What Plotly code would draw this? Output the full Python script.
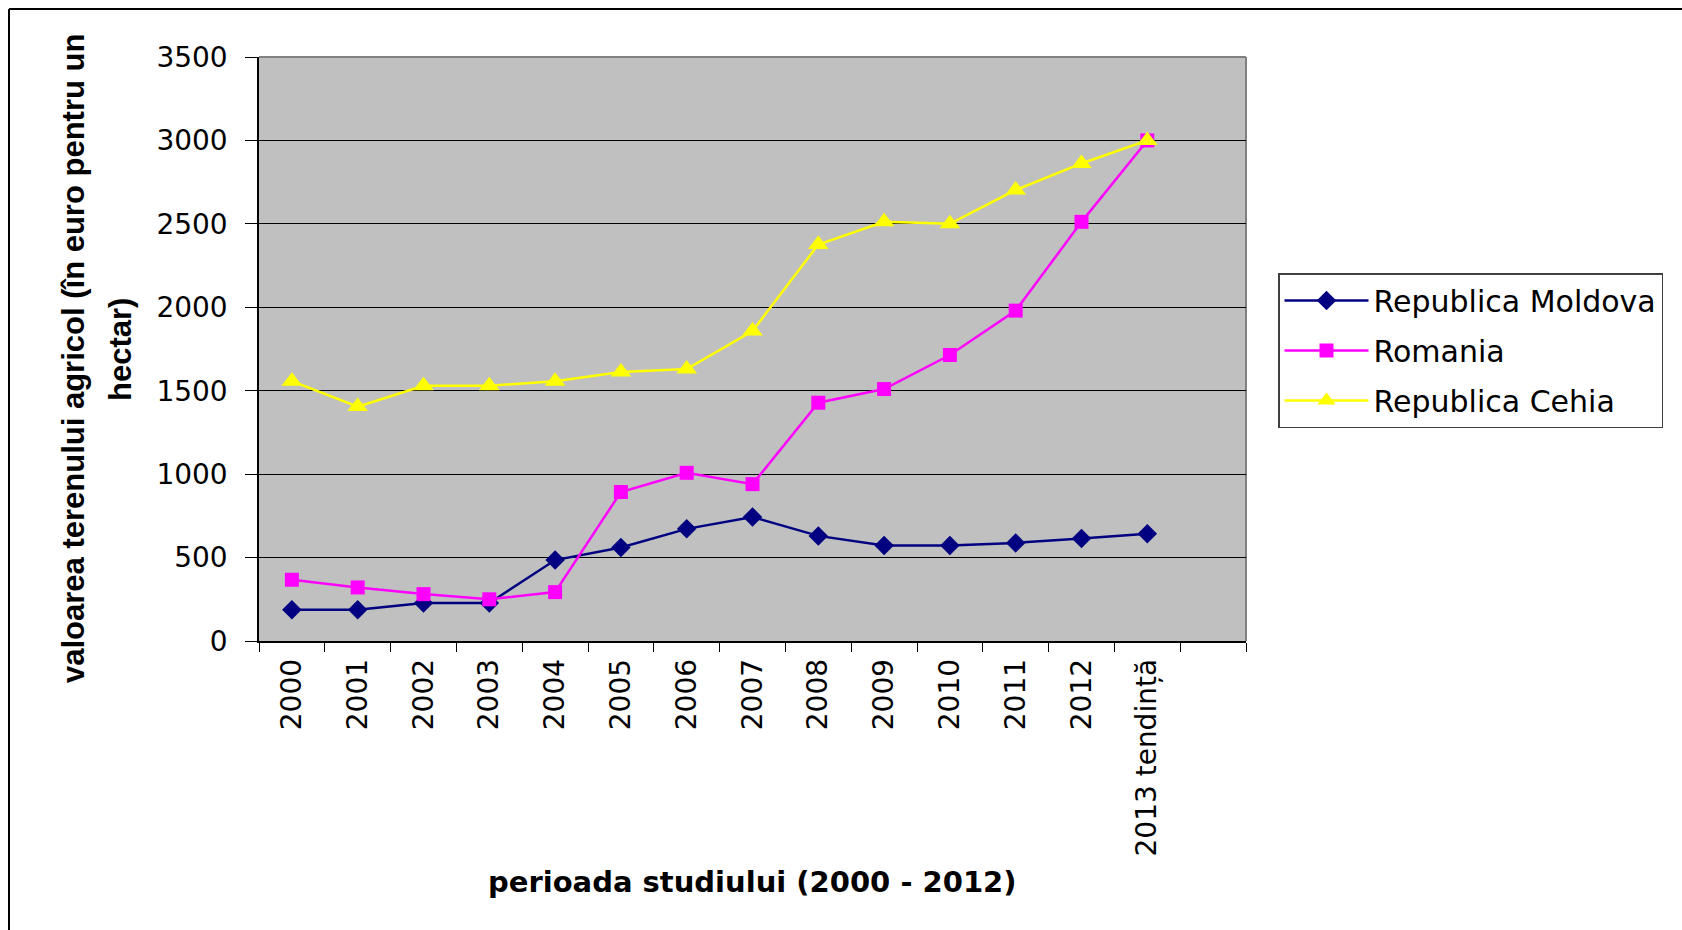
import plotly.graph_objects as go

# Agricultural land value, euro per hectare
years = ["2000", "2001", "2002", "2003", "2004", "2005", "2006",
         "2007", "2008", "2009", "2010", "2011", "2012", "2013 tendință"]
axis_slots = years + [" "]  # one spare empty slot at the right end

moldova = [188, 188, 228, 228, 485, 560, 672, 743, 630, 572, 572, 588, 614, 643]
romania = [367, 321, 281, 250, 293, 893, 1008, 940, 1428, 1510, 1714, 1980, 2512, 3000]
cehia = [1557, 1405, 1530, 1530, 1557, 1612, 1630, 1858, 2376, 2512, 2500, 2703, 2862, 3000]

series_names = ["Republica Moldova", "Romania", "Republica Cehia"]
series_colors = ["#000080", "#FF00FF", "#FFFF00"]
series_symbols = ["diamond", "square", "triangle-up"]
series_sizes = [15, 14, 18]

W, H = 1682, 930
ML, MR, MT, MB = 259, 436, 57, 289
PW, PH = W - ML - MR, H - MT - MB


def px_x(p):
    return (p - ML) / PW


def px_y(p):
    return (H - MB - p) / PH


fig = go.Figure()
for i, (name, vals) in enumerate(zip(series_names, [moldova, romania, cehia])):
    fig.add_trace(go.Scatter(
        x=years, y=vals, name=name, mode="lines+markers",
        legendgroup=name,
        line=dict(color=series_colors[i], width=2.5),
        marker=dict(symbol=series_symbols[i], size=series_sizes[i],
                    color=series_colors[i], line=dict(width=0)),
    ))

tick_font = dict(family="DejaVu Sans", size=28, color="black")

fig.update_layout(
    width=W, height=H,
    margin=dict(l=ML, r=MR, t=MT, b=MB, pad=0),
    paper_bgcolor="white",
    plot_bgcolor="#C0C0C0",
    showlegend=True,
    legend=dict(
        x=px_x(1278), y=px_y(273), xanchor="left", yanchor="top",
        bgcolor="white", bordercolor="#404040", borderwidth=1.5,
        font=dict(family="DejaVu Sans", size=30, color="black"),
        tracegroupgap=8, itemwidth=84,
    ),
    xaxis=dict(
        type="category", categoryorder="array", categoryarray=axis_slots,
        range=[-0.5, len(axis_slots) - 0.5],
        tickson="boundaries", ticks="outside", ticklen=9, tickcolor="black",
        tickwidth=1, tickangle=-90, tickfont=tick_font, ticklabelstandoff=5,
        showgrid=False, showline=True, linecolor="black", linewidth=1.5,
        zeroline=False, automargin=False,
    ),
    yaxis=dict(
        range=[0, 3500], dtick=500, tick0=0,
        ticks="outside", ticklen=12, tickcolor="black", tickwidth=1,
        tickfont=tick_font, ticklabelstandoff=12,
        showgrid=True, gridcolor="black", gridwidth=1,
        showline=True, linecolor="black", linewidth=1.5,
        zeroline=False, automargin=False,
    ),
    shapes=[
        # plot area frame (top and right)
        dict(type="line", xref="paper", yref="paper", x0=0, x1=1, y0=1, y1=1,
             line=dict(color="#808080", width=2), layer="below"),
        dict(type="line", xref="paper", yref="paper", x0=1, x1=1, y0=0, y1=1,
             line=dict(color="#808080", width=2), layer="below"),
        # chart area frame
        dict(type="line", xref="paper", yref="paper",
             x0=px_x(9), x1=px_x(W + 5), y0=px_y(9), y1=px_y(9),
             line=dict(color="black", width=2)),
        dict(type="line", xref="paper", yref="paper",
             x0=px_x(9), x1=px_x(9), y0=px_y(9), y1=px_y(H + 5),
             line=dict(color="black", width=2)),
    ],
    annotations=[
        dict(text="perioada studiului (2000 - 2012)", xref="paper", yref="paper",
             x=0.5, y=px_y(882), xanchor="center", yanchor="middle",
             showarrow=False,
             font=dict(family="DejaVu Sans", size=29, color="black", weight="bold")),
        dict(text="valoarea terenului agricol (în euro pentru un", xref="paper",
             yref="paper", x=px_x(73), y=px_y(359), xanchor="center",
             yanchor="middle", textangle=-90, showarrow=False,
             font=dict(family="Liberation Sans", size=31, color="black", weight="bold")),
        dict(text="hectar)", xref="paper", yref="paper",
             x=px_x(120), y=px_y(350), xanchor="center", yanchor="middle",
             textangle=-90, showarrow=False,
             font=dict(family="Liberation Sans", size=31, color="black", weight="bold")),
    ],
)

fig.write_html("out.html")
